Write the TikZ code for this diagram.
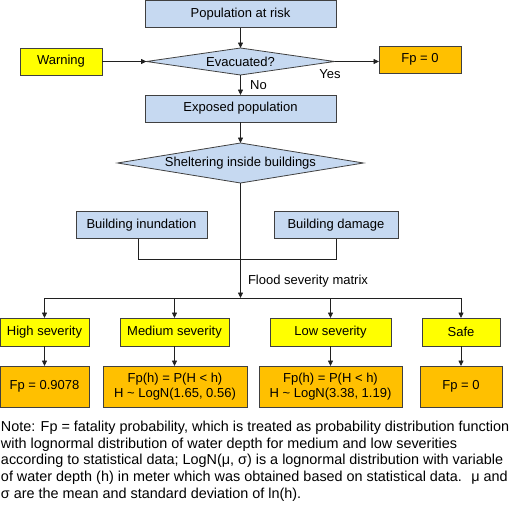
\documentclass[tikz,border=0pt]{standalone}
\usepackage{fontspec}
\setmainfont{Liberation Sans}
\usetikzlibrary{shapes.geometric,arrows.meta}
\definecolor{lblue}{HTML}{C6D9F1}
\definecolor{yel}{HTML}{FFFF00}
\definecolor{org}{HTML}{FFC000}
\definecolor{edgec}{HTML}{404040}
\definecolor{linec}{HTML}{202020}
\begin{document}
\begin{tikzpicture}[x=1pt,y=-1pt,
  every node/.style={font=\fontsize{13}{15}\selectfont, inner sep=0pt, outer sep=0pt},
  bx/.style={draw=edgec, line width=0.8pt, rectangle, align=center},
  bbox/.style={bx, fill=lblue},
  ybox/.style={bx, fill=yel},
  obox/.style={bx, fill=org},
  dia/.style={draw=edgec, line width=0.8pt, diamond, aspect=7, fill=lblue},
  conn/.style={draw=linec, line width=0.8pt},
  arr/.style={conn, -{Triangle[length=5.5pt,width=5pt]}},
  lbl/.style={font=\fontsize{13}{15}\selectfont},
  notel/.style={anchor=mid west, font=\fontsize{14.4}{16}\selectfont}
]
\useasboundingbox (0,0) rectangle (512,506);

% top part
\node[bbox, minimum width=191, minimum height=27] (par) at (240.5,14) {Population at risk};
\node[dia, minimum width=188, minimum height=27] (evac) at (240.5,61.5) {Evacuated?};
\node[ybox, minimum width=82, minimum height=27] (warn) at (61,61.5) {Warning};
\node[obox, minimum width=82, minimum height=27] (fp0) at (420,59.5) {Fp = 0};
\node[bbox, minimum width=191, minimum height=27] (exp) at (240.5,108.5) {Exposed population};
\node[dia, aspect=6, minimum width=246, minimum height=40] (shel) at (240.5,163) {Sheltering inside buildings};

\draw[arr] (par.south) -- (evac.north);
\draw[arr] (warn.east) -- (evac.west);
\draw[arr] (evac.east) -- (evac.east -| fp0.west);
\draw[arr] (evac.south) -- (exp.north);
\draw[arr] (exp.south) -- (shel.north);
\node[lbl] (yes) at (330,74) {Yes};
\node[lbl] (no) at (258.5,85) {No};

% buildings
\node[bbox, minimum width=131, minimum height=27] (inun) at (141.5,225) {Building inundation};
\node[bbox, minimum width=124, minimum height=27] (dam) at (336,225) {Building damage};
\coordinate (bl) at (138,259);
\coordinate (br) at (336,259);
\coordinate (row) at (240.5,298);
\draw[conn] (bl |- inun.south) -- (bl) -- (br) -- (dam.south);
\draw[arr] (shel.south) -- (row);
\node[lbl, anchor=west] (fsm) at (248,281) {Flood severity matrix};

% severity row
\node[ybox, minimum width=89, minimum height=28] (high) at (44.5,332) {High severity};
\node[ybox, minimum width=109, minimum height=28] (med) at (174.5,332) {Medium severity};
\node[ybox, minimum width=121, minimum height=28] (low) at (330.5,332) {Low severity};
\node[ybox, minimum width=78, minimum height=28] (safe) at (461,332) {Safe};
\draw[conn] (high.north |- row) -- (safe.north |- row);
\foreach \n in {high,med,low,safe}{
  \draw[arr] (\n.north |- row) -- (\n.north);
}

% fatality probabilities
\node[obox, minimum width=89, minimum height=41] (fhigh) at (44.5,386.5) {Fp = 0.9078};
\node[obox, minimum width=144, minimum height=41] (fmed) at (175,386.5) {Fp(h) = P(H < h)\\H \textasciitilde{} LogN(1.65, 0.56)};
\node[obox, minimum width=143, minimum height=41] (flow) at (330.5,386.5) {Fp(h) = P(H < h)\\H \textasciitilde{} LogN(3.38, 1.19)};
\node[obox, minimum width=82, minimum height=41] (fsafe) at (461,386.5) {Fp = 0};
\draw[arr] (high.south) -- (high.south |- fhigh.north);
\draw[arr] (med.south) -- (med.south |- fmed.north);
\draw[arr] (low.south) -- (low.south |- flow.north);
\draw[arr] (safe.south) -- (safe.south |- fsafe.north);

% note
\node[notel] (n1) at (1,428.5) {Note: Fp = fatality probability, which is treated as probability distribution function};
\node[notel] (n2) at (1,445.5) {with lognormal distribution of water depth for medium and low severities};
\node[notel] (n3) at (1,462) {according to statistical data; LogN(μ, σ) is a lognormal distribution with variable};
\node[notel] (n4) at (1,478.5) {of water depth (h) in meter which was obtained based on statistical data. \ μ and};
\node[notel] (n5) at (1,495.5) {σ are the mean and standard deviation of ln(h).};
\end{tikzpicture}
\end{document}
